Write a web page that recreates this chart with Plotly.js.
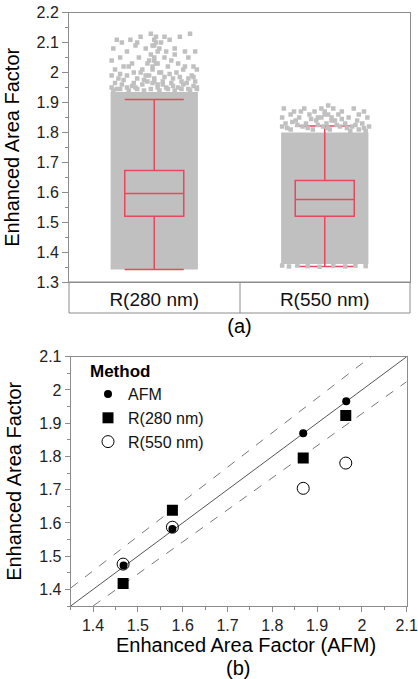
<!DOCTYPE html>
<html>
<head>
<meta charset="utf-8">
<script src="https://cdn.plot.ly/plotly-3.0.1.min.js"></script>
<style>html,body{margin:0;padding:0;background:#fff;}#chart{width:418px;height:679px;}</style>
</head>
<body>
<div id="chart"></div>
<script>
// ---------- Panel (a): distribution of Enhanced Area Factor ----------
const categories = ["R(280 nm)", "R(550 nm)"];
const catPos = [0, 1];
const boxQ1 = [1.520, 1.520];
const boxMedian = [1.596, 1.576];
const boxQ3 = [1.673, 1.639];
const boxLowerFence = [1.342, 1.352];
const boxUpperFence = [1.910, 1.821];
// dense point cloud extent (low / high) per category
const cloudLow = [1.342, 1.360];
const cloudHigh = [1.935, 1.800];
// sparse points above the dense cloud (offset from category centre, value)
const sparse280Dx = [-0.22,-0.19,-0.14,-0.08,-0.02,0.01,0.04,0.09,0.15,0.21,
  -0.24,-0.16,-0.11,-0.05,0.00,0.03,0.07,0.12,0.18,0.24,
  -0.25,-0.20,-0.13,-0.09,-0.03,0.00,0.02,0.06,0.10,0.14,0.20,0.23,
  -0.23,-0.18,-0.12,-0.07,-0.01,0.04,0.08,0.13,0.17,0.22,0.25,
  -0.25,-0.21,-0.16,-0.10,-0.05,0.00,0.05,0.11,0.16,0.20,0.24,
  -0.25,-0.22,-0.19,-0.16,-0.13,-0.10,-0.07,-0.04,-0.01,0.02,0.05,0.08,0.11,0.14,0.17,0.20,0.23,0.25,
  -0.24,-0.20,-0.15,-0.11,-0.06,-0.02,0.03,0.07,0.12,0.16,0.21,0.25,
  0.00,0.01,-0.01,0.02,-0.02,0.00,0.01,-0.01,0.03,-0.03,0.00,0.02,
  -0.23,-0.18,-0.12,-0.06,0.06,0.10,0.15,0.19,0.23,-0.20,-0.08,0.09,0.18,-0.15,-0.04,0.12,-0.10,0.06];
const sparse280Y = [2.11,2.10,2.11,2.12,2.13,2.12,2.10,2.11,2.12,2.13,
  2.08,2.07,2.09,2.08,2.09,2.08,2.07,2.08,2.07,2.07,
  2.04,2.05,2.03,2.05,2.04,2.05,2.03,2.05,2.04,2.03,2.05,2.02,
  2.01,2.02,2.00,2.01,2.02,2.00,2.02,2.00,2.01,1.99,2.01,
  1.99,1.98,1.99,1.98,1.99,1.98,1.97,1.98,1.97,1.98,1.97,
  1.95,1.945,1.96,1.95,1.955,1.945,1.96,1.97,1.965,1.95,1.96,1.945,1.955,1.95,1.96,1.945,1.955,1.95,
  1.94,1.945,1.94,1.95,1.94,1.945,1.94,1.95,1.94,1.945,1.94,1.945,
  2.11,2.10,2.09,2.07,2.06,2.04,2.03,2.01,2.00,1.99,1.97,1.96,
  1.965,1.975,1.965,1.975,1.985,1.965,1.985,1.965,1.985,1.995,2.00,1.995,2.02,2.02,2.03,2.06,2.10,2.12];
const sparse550Dx = [-0.24,-0.18,-0.12,-0.06,-0.02,0.02,0.05,0.10,0.17,0.23,
  -0.25,-0.20,-0.15,-0.09,-0.04,0.00,0.04,0.08,0.14,0.19,0.25,
  -0.23,-0.17,-0.11,-0.05,0.01,0.06,0.12,0.16,0.22,0.26,
  -0.25,-0.20,-0.13,-0.07,-0.01,0.03,0.09,0.15,0.20,0.24,
  -0.25,-0.21,-0.16,-0.10,-0.03,0.05,0.12,0.18,0.24,
  -0.22,-0.16,-0.10,-0.04,0.02,0.07,0.13,0.18,0.23,0.00,0.02,-0.02,0.04,-0.08,0.10,-0.19,0.20,-0.14];
const sparse550Y = [1.88,1.87,1.88,1.87,1.88,1.89,1.88,1.87,1.88,1.87,
  1.85,1.86,1.85,1.86,1.85,1.86,1.85,1.86,1.85,1.84,1.85,
  1.83,1.84,1.83,1.84,1.83,1.84,1.83,1.82,1.83,1.82,
  1.82,1.81,1.82,1.81,1.82,1.81,1.82,1.805,1.81,1.805,
  1.355,1.352,1.356,1.353,1.351,1.354,1.352,1.355,1.353,
  1.815,1.825,1.815,1.825,1.815,1.825,1.815,1.825,1.815,1.87,1.86,1.85,1.84,1.845,1.845,1.835,1.86,1.87];

// ---------- Panel (b): method comparison ----------
const afmX = [1.468, 1.577, 1.869, 1.965];
const afmY = [1.472, 1.582, 1.870, 1.966];
const r280X = [1.467, 1.577, 1.869, 1.964];
const r280Y = [1.418, 1.638, 1.795, 1.923];
const r550X = [1.467, 1.577, 1.869, 1.964];
const r550Y = [1.476, 1.587, 1.704, 1.780];
// reference lines (endpoints)
const identX = [1.35, 2.10], identY = [1.35, 2.10];
const upperX = [1.35, 2.02], upperY = [1.404, 2.10];
const lowerX = [1.40, 2.10], lowerY = [1.35, 2.025];

const FONT = "Liberation Sans, Arial, Helvetica, sans-serif";
const GRAY = "#c0c0c0";
const RED = "#e8475c";

function shift(center, dx) { return dx.map(d => center + d); }

const traces = [
  { type: "bar", x: catPos, base: cloudLow, y: cloudHigh.map((h, i) => h - cloudLow[i]),
    width: 0.512, marker: { color: GRAY, line: { width: 0 } }, showlegend: false,
    xaxis: "x", yaxis: "y", hoverinfo: "skip" },
  { type: "scatter", mode: "markers", x: shift(catPos[0], sparse280Dx), y: sparse280Y,
    marker: { symbol: "square", size: 4.5, color: GRAY }, showlegend: false, xaxis: "x", yaxis: "y" },
  { type: "scatter", mode: "markers", x: shift(catPos[1], sparse550Dx), y: sparse550Y,
    marker: { symbol: "square", size: 4.5, color: GRAY }, showlegend: false, xaxis: "x", yaxis: "y" },
  { type: "box", x: catPos, q1: boxQ1, median: boxMedian, q3: boxQ3,
    lowerfence: boxLowerFence, upperfence: boxUpperFence, boxpoints: false,
    width: 0.346, whiskerwidth: 1, fillcolor: "rgba(0,0,0,0)",
    line: { color: RED, width: 1.5 }, showlegend: false, xaxis: "x", yaxis: "y" },

  { type: "scatter", mode: "lines", x: identX, y: identY, line: { color: "#555", width: 1 },
    showlegend: false, xaxis: "x2", yaxis: "y2", hoverinfo: "skip" },
  { type: "scatter", mode: "lines", x: upperX, y: upperY, line: { color: "#777", width: 1, dash: "dash" },
    showlegend: false, xaxis: "x2", yaxis: "y2", hoverinfo: "skip" },
  { type: "scatter", mode: "lines", x: lowerX, y: lowerY, line: { color: "#777", width: 1, dash: "dash" },
    showlegend: false, xaxis: "x2", yaxis: "y2", hoverinfo: "skip" },
  { type: "scatter", mode: "markers", name: "AFM", x: afmX, y: afmY,
    marker: { symbol: "circle", size: 8, color: "#000" }, xaxis: "x2", yaxis: "y2" },
  { type: "scatter", mode: "markers", name: "R(280 nm)", x: r280X, y: r280Y,
    marker: { symbol: "square", size: 11, color: "#000" }, xaxis: "x2", yaxis: "y2" },
  { type: "scatter", mode: "markers", name: "R(550 nm)", x: r550X, y: r550Y,
    marker: { symbol: "circle-open", size: 12, color: "#000", line: { width: 1 } }, xaxis: "x2", yaxis: "y2" }
];

const W = 418, H = 679;
const px = v => v / W, py = v => 1 - v / H;

const axisCommon = {
  showline: true, mirror: true, linecolor: "#8c8c8c", linewidth: 1,
  showgrid: false, zeroline: false, tickfont: { family: FONT, size: 16, color: "#222" },
  tickcolor: "#8c8c8c"
};

const layout = {
  width: W, height: H,
  margin: { l: 0, r: 0, t: 0, b: 0 },
  paper_bgcolor: "#fff", plot_bgcolor: "#fff",
  font: { family: FONT, color: "#000" },
  showlegend: true,
  xaxis: Object.assign({}, axisCommon, {
    domain: [px(69), px(410)], anchor: "y", range: [-0.5, 1.5],
    tickvals: catPos, ticktext: categories, ticks: "",
    tickfont: { family: FONT, size: 19, color: "#111" }, ticklabelstandoff: 0,
    title: { text: "(a)", font: { family: FONT, size: 20 }, standoff: 10 }
  }),
  yaxis: Object.assign({}, axisCommon, {
    domain: [py(282), py(12.7)], anchor: "x", range: [1.3, 2.2], dtick: 0.1,
    ticks: "outside", ticklen: 6,
    minor: { dtick: 0.05, ticks: "outside", ticklen: 3, tickcolor: "#8c8c8c", showgrid: false },
    title: { text: "Enhanced Area Factor", font: { family: FONT, size: 20 } }
  }),
  xaxis2: Object.assign({}, axisCommon, {
    domain: [px(70.7), px(406.7)], anchor: "y2", range: [1.35, 2.1], dtick: 0.1,
    ticks: "outside", ticklen: 5,
    minor: { dtick: 0.05, ticks: "outside", ticklen: 3, tickcolor: "#8c8c8c", showgrid: false }
  }),
  yaxis2: Object.assign({}, axisCommon, {
    domain: [py(606), py(356.7)], anchor: "x2", range: [1.35, 2.1], dtick: 0.1,
    ticks: "outside", ticklen: 5,
    minor: { dtick: 0.05, ticks: "outside", ticklen: 3, tickcolor: "#8c8c8c", showgrid: false },
    title: { text: "Enhanced Area Factor", font: { family: FONT, size: 20 } }
  }),
  annotations: [
    { text: "Enhanced Area Factor (AFM)", xref: "paper", yref: "paper", x: px(246), y: py(645),
      xanchor: "center", yanchor: "middle", showarrow: false, font: { family: FONT, size: 20, color: "#000" } },
    { text: "(b)", xref: "paper", yref: "paper", x: px(238), y: py(668),
      xanchor: "center", yanchor: "middle", showarrow: false, font: { family: FONT, size: 20, color: "#000" } }
  ],
  legend: {
    x: px(88), y: py(355), xanchor: "left", yanchor: "top",
    bgcolor: "rgba(0,0,0,0)", borderwidth: 0,
    font: { family: FONT, size: 16, color: "#111" },
    title: { text: "<b>Method</b>", font: { family: FONT, size: 17, color: "#000" } },
    itemsizing: "trace", tracegroupgap: 0
  },
  shapes: [
    { type: "rect", xref: "paper", yref: "paper", x0: px(69), x1: px(410), y0: py(313), y1: py(282),
      line: { color: "#8c8c8c", width: 1 } },
    { type: "line", xref: "paper", yref: "paper", x0: px(240), x1: px(240), y0: py(313), y1: py(282),
      line: { color: "#8c8c8c", width: 1 } }
  ]
};

Plotly.newPlot("chart", traces, layout, { staticPlot: true, displayModeBar: false });
</script>
</body>
</html>
